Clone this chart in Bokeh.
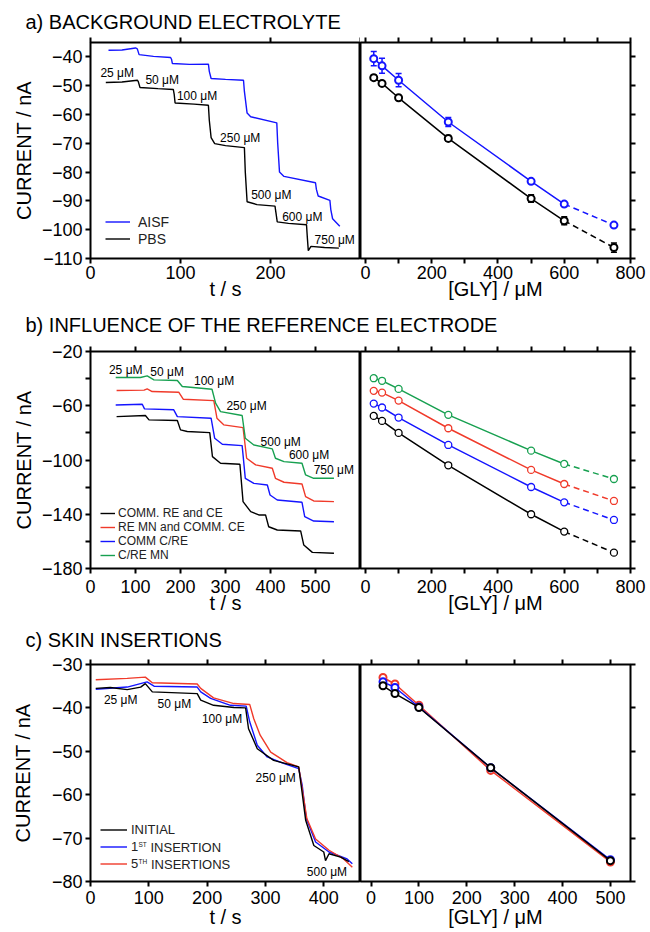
from bokeh.plotting import figure
from bokeh.models import (Range1d, LinearAxis, FixedTicker, CustomJSTickFormatter,
                          Legend, LegendItem, Whisker, ColumnDataSource, TeeHead)
from bokeh.layouts import column, row
from bokeh.embed import file_html
from bokeh.resources import INLINE
from bokeh.core.properties import value

# ------------------------------------------------------------------ data
# a) background electrolyte: amperometric traces (t / s, current / nA)
a_aisf_t = [20, 35, 50, 52, 54, 70, 89, 90, 91, 110, 131, 132, 134, 150, 170, 171, 174, 178,
            207, 208, 210, 215, 250, 251, 253, 266, 267, 269, 277]
a_aisf_i = [-37.7, -37.6, -36.9, -37.2, -39.2, -39.8, -40.2, -40.8, -42.3, -42.6, -42.5, -45.0,
            -47.5, -47.8, -48.1, -52.0, -59.5, -60.8, -62.9, -70.0, -80.0, -81.5, -83.7, -86.0,
            -88.3, -89.8, -93.0, -96.2, -98.8]
a_pbs_t = [17, 35, 52, 53, 55, 75, 92, 93, 94, 115, 131, 132, 134, 138, 150, 171, 172, 174,
           185, 205, 206, 207.5, 220, 240, 241, 242, 245, 260, 276]
a_pbs_i = [-48.9, -48.7, -48.1, -48.5, -50.6, -51.0, -51.3, -53.0, -56.0, -56.4, -56.8, -62.0,
           -68.0, -70.1, -70.8, -71.5, -80.0, -90.3, -91.3, -91.8, -94.0, -97.3, -97.8, -98.3,
           -103.0, -107.3, -105.8, -106.2, -106.4]
a_lab_text = ["25 μM", "50 μM", "100 μM", "250 μM", "500 μM", "600 μM", "750 μM"]
a_lab_t = [11, 61, 96, 144, 178.5, 213, 249]
a_lab_i = [-45.6, -48.0, -53.6, -68.3, -88.0, -95.5, -103.6]
# a) calibration
gly_a = [25, 50, 100, 250, 500, 600, 750]
a_aisf_mean = [-40.6, -43.1, -48.1, -62.6, -83.2, -91.1, -98.4]
a_aisf_err = [2.5, 2.6, 2.3, 1.6, 0.6, 0.6, 0.5]
a_pbs_mean = [-47.2, -49.2, -54.2, -68.3, -89.2, -96.9, -106.2]
a_pbs_err = [0.8, 0.8, 0.6, 1.0, 1.3, 1.4, 1.6]

# b) influence of the reference electrode
b_green_t = [56, 111, 126, 141, 193, 204, 270, 278, 289, 337, 344, 363, 404, 411, 430, 470, 478, 496, 541]
b_green_i = [-39.2, -39.2, -38.0, -40.9, -41.4, -45.8, -47.8, -58.1, -64.3, -67.2, -84.0, -88.9,
             -91.8, -98.7, -101.2, -102.4, -111.0, -113.5, -113.5]
b_red_t = [58, 119, 126, 137, 196, 206, 274, 281, 296, 339, 347, 367, 404, 411, 430, 470, 478, 496, 541]
b_red_i = [-48.8, -48.5, -47.6, -49.5, -50.0, -55.2, -56.2, -69.2, -74.1, -76.1, -98.7, -103.6,
           -106.1, -113.5, -116.4, -117.7, -127.0, -130.2, -130.7]
b_blue_t = [56, 115, 120, 185, 193, 268, 276, 293, 337, 344, 363, 393, 399, 415, 470, 476, 496, 541]
b_blue_i = [-59.4, -58.9, -62.3, -63.0, -68.0, -69.2, -84.0, -88.4, -89.4, -113.5, -117.2, -118.4,
            -125.8, -129.5, -131.2, -141.8, -145.0, -145.5]
b_black_t = [58, 122, 130, 193, 200, 215, 265, 271, 289, 332, 339, 356, 374, 389, 396, 415, 467, 474, 493, 541]
b_black_i = [-68.0, -67.2, -70.4, -70.9, -77.8, -79.0, -79.8, -97.5, -102.4, -103.1, -130.7, -138.1,
             -140.5, -140.5, -149.2, -151.6, -152.3, -162.7, -168.1, -168.8]
b_lab_text = ["25 μM", "50 μM", "100 μM", "250 μM", "500 μM", "600 μM", "750 μM"]
b_lab_t = [41, 133, 230, 302, 378, 441, 496]
b_lab_i = [-33.5, -34.8, -41.4, -59.9, -86.4, -96.3, -107.3]
gly_b = [25, 50, 100, 250, 500, 600, 750]
b_green_cal = [-39.7, -41.6, -47.6, -66.7, -93.1, -102.9, -114.0]
b_red_cal = [-49.0, -50.3, -56.2, -76.6, -107.3, -117.7, -130.2]
b_blue_cal = [-58.4, -61.3, -68.7, -88.9, -119.9, -131.2, -144.2]
b_black_cal = [-67.5, -71.2, -80.0, -103.9, -140.0, -152.8, -168.3]

# c) skin insertions
c_red_t = [9, 63, 94, 106, 183, 189, 211, 246, 273, 280, 291, 309, 337, 357, 363, 371, 386, 409, 434, 449]
c_red_i = [-33.5, -33.2, -32.9, -34.2, -34.5, -35.5, -37.7, -39.0, -39.2, -42.5, -46.3, -50.2,
           -52.6, -53.6, -58.6, -65.5, -70.2, -72.8, -74.8, -76.7]
c_blue_t = [9, 63, 97, 109, 183, 189, 206, 240, 267, 273, 286, 303, 331, 357, 363, 370, 386, 409, 440, 449]
c_blue_i = [-35.7, -35.2, -34.0, -35.0, -35.2, -36.3, -37.8, -39.4, -39.6, -43.2, -48.6, -51.3,
            -52.8, -54.0, -57.8, -65.5, -70.9, -73.2, -74.8, -75.9]
c_black_t = [9, 34, 63, 86, 94, 106, 183, 189, 211, 246, 266, 271, 286, 314, 357, 362, 369, 383,
             400, 403, 409, 429, 443]
c_black_i = [-35.5, -35.3, -35.8, -35.2, -34.4, -36.3, -36.7, -38.2, -39.4, -39.9, -40.0, -44.8,
             -49.4, -52.1, -53.6, -58.6, -65.9, -71.7, -73.2, -75.2, -73.6, -74.4, -75.4]
c_lab_text = ["25 μM", "50 μM", "100 μM", "250 μM", "500 μM"]
c_lab_t = [23, 115, 191, 283, 371]
c_lab_i = [-38.2, -39.2, -42.5, -56.2, -77.7]
gly_c = [25, 50, 100, 250, 500]
c_red_cal = [-33.0, -34.5, -39.4, -54.4, -75.5]
c_blue_cal = [-34.0, -35.3, -39.8, -53.8, -75.0]
c_black_cal = [-34.9, -36.7, -39.9, -53.8, -75.2]

titles = ["a) BACKGROUND ELECTROLYTE", "b) INFLUENCE OF THE REFERENCE ELECTRODE", "c) SKIN INSERTIONS"]

# ------------------------------------------------------------------ style
FONT = "Liberation Sans"
BLUE = "#1414ff"
RED = "#f03a2a"
GREEN = "#17a050"
BLACK = "#000000"
FW_L, FW_R = 270, 270
ML, MR = 90, 20
TOTAL_W = ML + FW_L + FW_R + MR


def style_axis(ax, ticks, minor=None, show_labels=True, label="", label_standoff=0, major_standoff=0):
    ax.ticker = FixedTicker(ticks=list(ticks), minor_ticks=list(minor or []))
    ax.axis_line_color = None
    for k in ("major", "minor"):
        setattr(ax, k + "_tick_in", 0)
        setattr(ax, k + "_tick_out", 5)
        setattr(ax, k + "_tick_line_width", 2)
        setattr(ax, k + "_tick_line_color", "black")
    if show_labels:
        ax.formatter = CustomJSTickFormatter(
            code="return (tick < 0 ? '\u2212' : '') + Math.abs(tick).toString();")
        ax.major_label_text_font = FONT
        ax.major_label_text_font_size = "18px"
        ax.major_label_text_color = "black"
        ax.major_label_standoff = major_standoff
    else:
        ax.formatter = CustomJSTickFormatter(code="return '';")
        ax.major_label_text_font_size = "0px"
        ax.major_label_standoff = 0
    if label:
        ax.axis_label = label
        ax.axis_label_text_font = FONT
        ax.axis_label_text_font_size = "20px"
        ax.axis_label_text_font_style = "normal"
        ax.axis_label_text_color = "black"
        ax.axis_label_standoff = label_standoff


def title_fig(h, center_from_top, text):
    p = figure(width=TOTAL_W, height=h, x_range=Range1d(0, TOTAL_W), y_range=Range1d(0, h),
               toolbar_location=None, output_backend="svg", min_border=0,
               x_axis_location=None, y_axis_location=None)
    p.grid.visible = False
    p.outline_line_color = None
    p.text(x=[25], y=[h - center_from_top], text=[text], text_font=value(FONT),
           text_font_size="20px", text_baseline="middle", text_align="left", text_color="black")
    return p


def pair(xr_l, xr_r, yr, fh, top, bottom, xt_l, xt_l_top, xt_r, xt_r_minor, yt, yt_minor,
         ylab_so, xmaj_so, xlab_so):
    left = figure(x_range=Range1d(*xr_l), y_range=Range1d(*yr), frame_width=FW_L, frame_height=fh,
                  min_border_left=ML, min_border_right=0, min_border_top=top,
                  min_border_bottom=bottom, toolbar_location=None, output_backend="svg")
    right = figure(x_range=Range1d(*xr_r), y_range=Range1d(*yr), frame_width=FW_R, frame_height=fh,
                   min_border_left=0, min_border_right=MR, min_border_top=top,
                   min_border_bottom=bottom, y_axis_location="right",
                   toolbar_location=None, output_backend="svg")
    for p in (left, right):
        p.grid.visible = False
        p.outline_line_color = "black"
        p.outline_line_width = 2
    style_axis(left.yaxis[0], yt, yt_minor, True, "CURRENT / nA", ylab_so, 3)
    style_axis(left.xaxis[0], xt_l, None, True, "t / s", xlab_so, xmaj_so)
    top_l = LinearAxis()
    style_axis(top_l, xt_l_top, None, False)
    left.add_layout(top_l, "above")
    style_axis(right.yaxis[0], yt, yt_minor, False)
    style_axis(right.xaxis[0], xt_r, xt_r_minor, True, "[GLY] / μM", xlab_so, xmaj_so)
    top_r = LinearAxis()
    style_axis(top_r, xt_r, xt_r_minor, False)
    right.add_layout(top_r, "above")
    return left, right


def legend(items, loc, gw, gh, standoff, size):
    lg = Legend(items=items, location=loc, glyph_width=gw, glyph_height=gh, label_height=gh,
                label_standoff=standoff, spacing=0, padding=0, margin=0,
                border_line_color=None, background_fill_alpha=0,
                label_text_font=FONT, label_text_font_size=size, label_text_color="#222222")
    return lg


def conc_labels(p, t, i, txt):
    p.text(x=t, y=i, text=txt, text_font=value(FONT), text_font_size="12px",
           text_align="left", text_baseline="middle", text_color="black")


def calib(p, x, y, color, n_solid, lw=1.5, size=7, mlw=1.5):
    p.line(x[:n_solid], y[:n_solid], line_color=color, line_width=lw)
    if n_solid < len(x):
        p.line(x[n_solid - 1:], y[n_solid - 1:], line_color=color, line_width=lw, line_dash="6 4")
    p.scatter(x, y, marker="circle", size=size, fill_color="white", line_color=color, line_width=mlw)


# ------------------------------------------------------------------ panel a
ta = title_fig(36, 21.5, titles[0])
la, ra = pair((0, 300), (-15, 800), (-110, -35), 216, 6, 44,
              [0, 100, 200], [0, 100, 200, 300], [0, 200, 400, 600, 800], [100, 300, 500, 700],
              list(range(-110, -35, 10)), None, 4, 2, -4)
r_aisf = la.line(a_aisf_t, a_aisf_i, line_color=BLUE, line_width=1.4)
r_pbs = la.line(a_pbs_t, a_pbs_i, line_color=BLACK, line_width=1.4)
conc_labels(la, a_lab_t, a_lab_i, a_lab_text)
la.add_layout(legend([LegendItem(label="AISF", renderers=[r_aisf]),
                      LegendItem(label="PBS", renderers=[r_pbs])], (15, 11), 25, 17, 8, "14px"))

for mean, err, col in ((a_aisf_mean, a_aisf_err, BLUE), (a_pbs_mean, a_pbs_err, BLACK)):
    src = ColumnDataSource(dict(x=gly_a, upper=[m + e for m, e in zip(mean, err)],
                                lower=[m - e for m, e in zip(mean, err)]))
    ra.add_layout(Whisker(source=src, base="x", upper="upper", lower="lower", line_color=col,
                          line_width=1.5,
                          upper_head=TeeHead(size=6, line_color=col, line_width=1.5),
                          lower_head=TeeHead(size=6, line_color=col, line_width=1.5)))
    calib(ra, gly_a, mean, col, 6, lw=1.5, size=7, mlw=2)

# ------------------------------------------------------------------ panel b
tb = title_fig(41, 22.5, titles[1])
lb, rb = pair((0, 600), (-15, 800), (-180, -20), 217, 8, 48,
              [0, 100, 200, 300, 400, 500], [0, 100, 200, 300, 400, 500],
              [0, 200, 400, 600, 800], [100, 300, 500, 700],
              [-180, -140, -100, -60, -20], [-160, -120, -80, -40], 4, 6, -4)
rb_k = lb.line(b_black_t, b_black_i, line_color=BLACK, line_width=1.4)
rb_r = lb.line(b_red_t, b_red_i, line_color=RED, line_width=1.4)
rb_b = lb.line(b_blue_t, b_blue_i, line_color=BLUE, line_width=1.4)
rb_g = lb.line(b_green_t, b_green_i, line_color=GREEN, line_width=1.4)
conc_labels(lb, b_lab_t, b_lab_i, b_lab_text)
lb.add_layout(legend([LegendItem(label="COMM. RE and CE", renderers=[rb_k]),
                      LegendItem(label="RE MN and COMM. CE", renderers=[rb_r]),
                      LegendItem(label="COMM C/RE", renderers=[rb_b]),
                      LegendItem(label="C/RE MN", renderers=[rb_g])], (10, 6), 15, 14, 3, "12px"))
for ys, col in ((b_black_cal, BLACK), (b_blue_cal, BLUE), (b_red_cal, RED), (b_green_cal, GREEN)):
    calib(rb, gly_b, ys, col, 6, lw=1.5, size=7, mlw=1.3)

# ------------------------------------------------------------------ panel c
tc = title_fig(40, 23, titles[2])
XR_C = (0, 463)
YR_C = (-80, -30)
lc, rc = pair(XR_C, (-22, 542), YR_C, 217, 8, 48,
              [0, 100, 200, 300, 400], [0, 100, 200, 300, 400],
              [0, 100, 200, 300, 400, 500], None,
              list(range(-80, -29, 10)), None, 15, 4, -1)
rc_k = lc.line(c_black_t, c_black_i, line_color=BLACK, line_width=1.4)
rc_b = lc.line(c_blue_t, c_blue_i, line_color=BLUE, line_width=1.4)
rc_r = lc.line(c_red_t, c_red_i, line_color=RED, line_width=1.4)
lc.renderers.remove(rc_k)
lc.renderers.append(rc_k)
conc_labels(lc, c_lab_t, c_lab_i, c_lab_text)
lc.add_layout(legend([LegendItem(label="INITIAL", renderers=[rc_k]),
                      LegendItem(label="1", renderers=[rc_b]),
                      LegendItem(label="5", renderers=[rc_r])], (10, 9), 27, 17, 4, "13px"))


def px_x(px):  # horizontal pixel offset inside frame -> data
    return XR_C[0] + px * (XR_C[1] - XR_C[0]) / FW_L


def px_y(px):  # vertical pixel offset above frame bottom -> data
    return YR_C[0] + px * (YR_C[1] - YR_C[0]) / 217


lc.text(x=[px_x(48), px_x(48)], y=[px_y(37.5), px_y(20.5)], text=["ST", "TH"],
        text_font=value(FONT), text_font_size="6.5px", text_align="left",
        text_baseline="middle", text_color="#222222")
lc.text(x=[px_x(60), px_x(60.5)], y=[px_y(34.5), px_y(17.5)], text=["INSERTION", "INSERTIONS"],
        text_font=value(FONT), text_font_size="13px", text_align="left",
        text_baseline="middle", text_color="#222222")

for ys, col in ((c_red_cal, RED), (c_blue_cal, BLUE), (c_black_cal, BLACK)):
    calib(rc, gly_c, ys, col, len(gly_c), lw=1.5, size=7, mlw=2)

layout = column(ta, row(la, ra), tb, row(lb, rb), tc, row(lc, rc))
open("out.html", "w").write(file_html(layout, INLINE))
